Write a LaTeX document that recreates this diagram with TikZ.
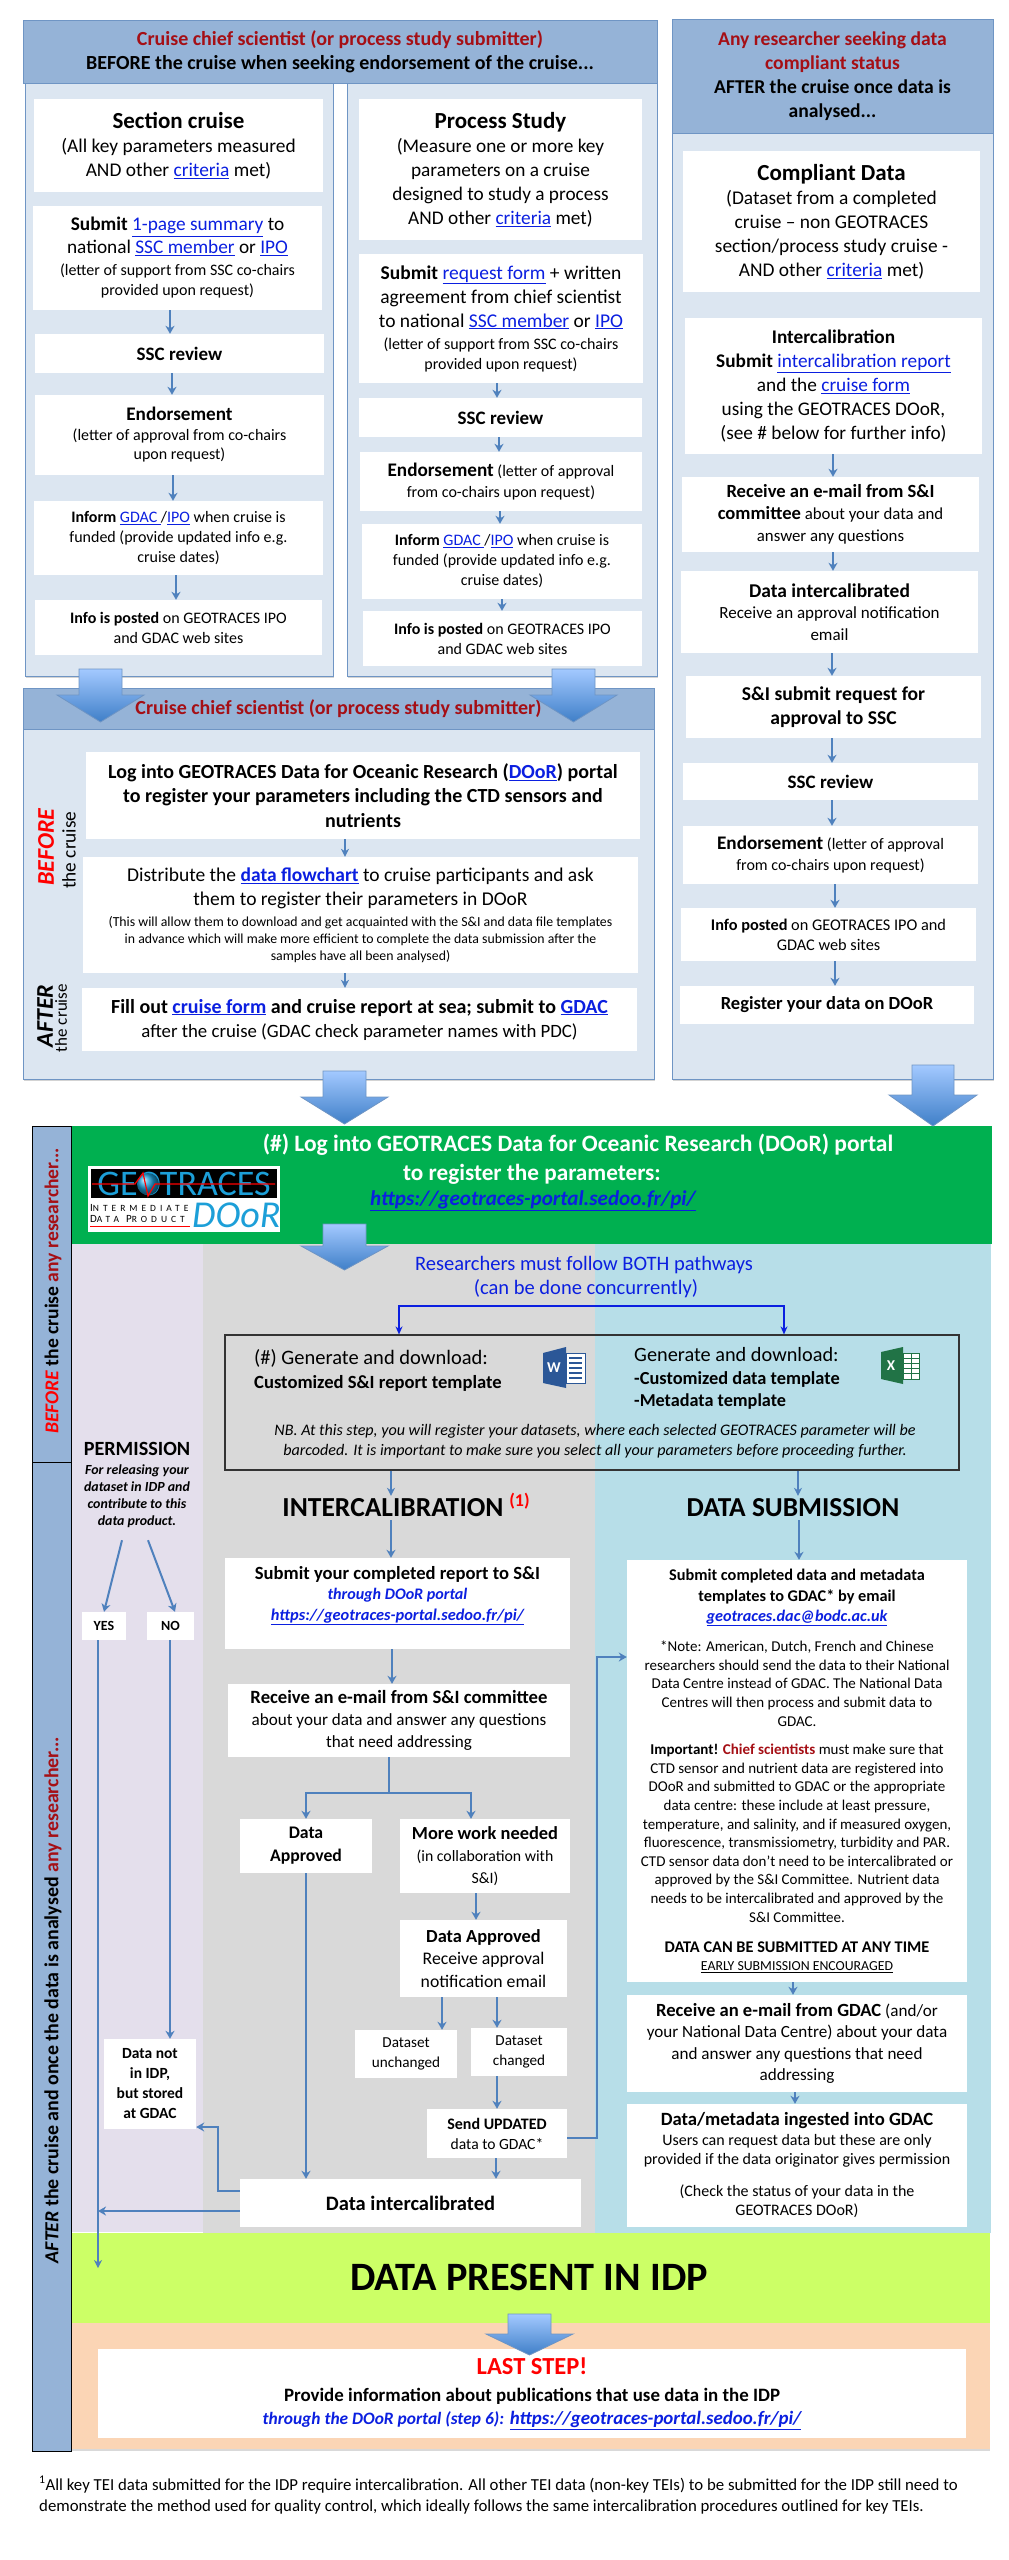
\documentclass[tikz,border=0pt]{standalone}
\usepackage{fontspec}
\setmainfont{Carlito}
\usetikzlibrary{arrows.meta,shadows}
\definecolor{headblue}{HTML}{95B3D7}
\definecolor{bodyblue}{HTML}{DCE6F1}
\definecolor{edgeblue}{HTML}{6F95C4}
\definecolor{flowblue}{HTML}{4F81BD}
\definecolor{arrowtop}{HTML}{A3C9FF}
\definecolor{arrowbot}{HTML}{3F7FC8}
\definecolor{darkred}{HTML}{A50F15}
\definecolor{linkblue}{HTML}{0B1FE0}
\definecolor{bandgreen}{HTML}{00B050}
\definecolor{lavender}{HTML}{E4DFEC}
\definecolor{midgrey}{HTML}{D9D9D9}
\definecolor{paleblue}{HTML}{B7DEE8}
\definecolor{limegreen}{HTML}{CCFF66}
\definecolor{peach}{HTML}{FBD5B5}
\definecolor{logocyan}{HTML}{1C9FD8}
\definecolor{wordblue}{HTML}{2B5797}
\definecolor{excelgreen}{HTML}{217346}
\newcommand{\fs}[2]{\fontsize{#1}{#2}\selectfont}
\newcommand{\lnk}[1]{\textcolor{linkblue}{\underline{#1}}}
\tikzset{
	panelbody/.style={fill=bodyblue,draw=edgeblue,line width=1pt,drop shadow={shadow xshift=1pt,shadow yshift=-1.5pt,opacity=.35}},
	panelhead/.style={fill=headblue,draw=edgeblue,line width=.8pt,inner sep=0pt,align=center},
	whitebox/.style={fill=white,inner sep=0pt,align=center},
	flow/.style={draw=flowblue,line width=2pt,-{Stealth[length=8pt,width=9pt,inset=2.5pt]}},
	flowthin/.style={draw=flowblue,line width=1.3pt,-{Stealth[length=8pt,width=8pt,inset=2.5pt]}},
	flowplain/.style={draw=flowblue,line width=2pt},
	bigarrow/.style={top color=arrowtop,bottom color=arrowbot,draw=edgeblue,line width=.8pt},
	bothflow/.style={draw=linkblue,line width=2pt,{Stealth[length=8pt,width=7pt]}-{Stealth[length=8pt,width=7pt]}},
}
\begin{document}
\begin{tikzpicture}[x=1pt,y=-1pt]
	\useasboundingbox (0,0) rectangle (1009,2560);
	%endorsement panel
	\draw[panelbody] (25,83) rectangle (333,676);
	\draw[panelbody] (347,83) rectangle (657,676);
	\node[panelhead,minimum width=634pt,minimum height=63pt,font=\fs{20}{24}\bfseries] (headA) at (340,51.5) {\textcolor{darkred}{Cruise chief scientist (or process study submitter)}\\BEFORE the cruise when seeking endorsement of the cruise...};
	\node[whitebox,minimum width=289pt,minimum height=93pt,font=\fs{19.4}{24}] (sect) at (178.5,145.5) {{\fs{23}{24}\bfseries Section cruise}\\(All key parameters measured\\AND other \lnk{criteria} met)};
	\node[whitebox,minimum width=289pt,minimum height=104pt,font=\fs{19.3}{24}] (sectsub) at (177.5,258) {\textbf{Submit} \lnk{1-page summary} to\\[-1pt]national \lnk{SSC member} or \lnk{IPO}\\[-2pt]{\fs{16}{20}(letter of support from SSC co-chairs}\\[-4pt]{\fs{16}{20}provided upon request)}};
	\node[whitebox,minimum width=289pt,minimum height=39pt,font=\fs{19}{22}\bfseries] (sectssc) at (179.5,353.5) {SSC review};
	\node[whitebox,minimum width=289pt,minimum height=80pt,font=\fs{16}{19.5}] (sectend) at (179.5,435) {{\fs{19.2}{22}\bfseries Endorsement}\\(letter of approval from co-chairs\\upon request)};
	\node[whitebox,minimum width=289pt,minimum height=74pt,font=\fs{16}{20}] (sectinf) at (178.5,538) {\textbf{Inform} \lnk{GDAC }/\lnk{IPO} when cruise is\\funded  (provide updated info e.g.\\cruise dates)};
	\node[whitebox,minimum width=287pt,minimum height=55pt,font=\fs{16}{20}] (sectpost) at (178.5,627.5) {\textbf{Info is posted} on GEOTRACES IPO\\and GDAC web sites};
	\node[whitebox,minimum width=283pt,minimum height=141pt,font=\fs{19.3}{24}] (proc) at (500.5,169.5) {{\fs{23}{24}\bfseries Process Study}\\(Measure one or more key\\parameters on a cruise\\designed to study a process\\AND other \lnk{criteria} met)};
	\node[whitebox,minimum width=284pt,minimum height=129pt,font=\fs{19.5}{24}] (procsub) at (501,318.5) {\textbf{Submit} \lnk{request form} + written\\agreement from chief scientist\\to national \lnk{SSC member} or \lnk{IPO}\\[-2pt]{\fs{16}{20}(letter of support from SSC co-chairs}\\[-4pt]{\fs{16}{20}provided upon request)}};
	\node[whitebox,minimum width=283pt,minimum height=39pt,font=\fs{19}{22}\bfseries] (procssc) at (500.5,417.5) {SSC review};
	\node[whitebox,minimum width=282pt,minimum height=59pt,font=\fs{16}{21}] (procend) at (501,481.5) {{\fs{19.2}{21}\bfseries Endorsement} (letter of approval\\from co-chairs upon request)};
	\node[whitebox,minimum width=280pt,minimum height=75pt,font=\fs{16}{20}] (procinf) at (502,561.5) {\textbf{Inform} \lnk{GDAC }/\lnk{IPO} when cruise is\\funded  (provide updated info e.g.\\cruise dates)};
	\node[whitebox,minimum width=279pt,minimum height=55pt,font=\fs{16}{20}] (procpost) at (502.5,638.5) {\textbf{Info is posted} on GEOTRACES IPO\\and GDAC web sites};
	\draw[flow] (sectsub.south -| 170,0) -- (sectssc.north -| 170,0);
	\draw[flow] (sectssc.south -| 172,0) -- (sectend.north -| 172,0);
	\draw[flow] (sectend.south -| 173,0) -- (sectinf.north -| 173,0);
	\draw[flow] (sectinf.south -| 176,0) -- (sectpost.north -| 176,0);
	\draw[flow] (procsub.south -| 497,0) -- (procssc.north -| 497,0);
	\draw[flow] (procssc.south -| 499,0) -- (procend.north -| 499,0);
	\draw[flow] (procend.south -| 500,0) -- (procinf.north -| 500,0);
	\draw[flow] (procinf.south -| 502,0) -- (procpost.north -| 502,0);
	%cruise panel
	\draw[panelbody] (23,688) rectangle (654,1079);
	\node[panelhead,minimum width=631pt,minimum height=41pt,font=\fs{20}{24}\bfseries,text=darkred] (headB) at (338.5,708.5) {Cruise chief scientist (or process study submitter)};
	\node[whitebox,minimum width=554pt,minimum height=87pt,font=\fs{20}{24.5}\bfseries] (login) at (363,795.5) {Log into GEOTRACES Data for Oceanic Research (\lnk{DOoR}) portal\\to register your parameters including the CTD sensors and\\nutrients};
	\node[whitebox,minimum width=555pt,minimum height=116pt,font=\fs{19.5}{24}] (distrib) at (360.5,915) {Distribute the \textbf{\lnk{data flowchart}} to cruise participants and ask\\them to register their parameters in DOoR\\[-3pt]{\fs{13.8}{17}(This will allow them to download and get acquainted with the S\&I and data file templates}\\[-7pt]{\fs{13.8}{17}in advance which will make more efficient to complete the data submission after the}\\[-7pt]{\fs{13.8}{17}samples have all been analysed)}};
	\node[whitebox,minimum width=555pt,minimum height=63pt,font=\fs{18.8}{24}] (fillout) at (359.5,1019.5) {{\fs{20}{24}\bfseries Fill out \lnk{cruise form} and cruise report at sea; submit to \lnk{GDAC}}\\after the cruise (GDAC check parameter names with PDC)};
	\draw[flowthin] (login.south -| 345,0) -- (distrib.north -| 345,0);
	\draw[flowthin] (distrib.south -| 345,0) -- (fillout.north -| 345,0);
	\node[rotate=90,inner sep=0pt,font=\fs{24}{24}\bfseries\itshape,text=red] (beforelab) at (46,847) {BEFORE};
	\node[rotate=90,inner sep=0pt,font=\fs{19.3}{20}] (beforecr) at (69,850) {the cruise};
	\node[rotate=90,inner sep=0pt,font=\fs{24}{24}\bfseries\itshape] (afterlab) at (45,1016) {AFTER};
	\node[rotate=90,inner sep=0pt,font=\fs{17}{18}] (aftercr) at (61,1018) {the cruise};
	%compliant panel
	\draw[panelbody] (672,133) rectangle (993,1079);
	\node[panelhead,minimum width=321pt,minimum height=114pt,font=\fs{19.6}{24}\bfseries] (headC) at (832.5,76) {\textcolor{darkred}{Any researcher seeking data}\\\textcolor{darkred}{compliant status}\\AFTER the cruise once data is\\analysed...};
	\node[whitebox,minimum width=297pt,minimum height=141pt,font=\fs{19.4}{24}] (comp) at (831.5,221.5) {{\fs{23}{24}\bfseries Compliant Data}\\(Dataset from a completed\\cruise -- non GEOTRACES\\section/process study cruise -\\AND other \lnk{criteria} met)};
	\node[whitebox,minimum width=297pt,minimum height=136pt,font=\fs{19.3}{24}] (cint) at (833.5,386) {\textbf{Intercalibration}\\\textbf{Submit} \lnk{intercalibration report}\\and the \lnk{cruise form}\\using the GEOTRACES DOoR,\\(see \# below for further info)};
	\node[whitebox,minimum width=297pt,minimum height=75pt,font=\fs{16.8}{22}] (crec) at (830.5,514.5) {{\fs{18.6}{22}\bfseries Receive an e-mail from S\&I}\\{\fs{18.6}{22}\bfseries committee} about your data and\\answer any questions};
	\node[whitebox,minimum width=297pt,minimum height=82pt,font=\fs{17}{21.5}] (cdat) at (829.5,612) {{\fs{19.5}{22}\bfseries Data intercalibrated}\\Receive an approval notification\\email};
	\node[whitebox,minimum width=295pt,minimum height=62pt,font=\fs{19.6}{24}\bfseries] (csi) at (833.5,707) {S\&I submit request for\\approval to  SSC};
	\node[whitebox,minimum width=295pt,minimum height=37pt,font=\fs{19}{22}\bfseries] (cssc) at (830.5,781.5) {SSC review};
	\node[whitebox,minimum width=295pt,minimum height=58pt,font=\fs{16}{21}] (cend) at (830.5,855) {{\fs{19.2}{21}\bfseries Endorsement} (letter of approval\\from co-chairs upon request)};
	\node[whitebox,minimum width=295pt,minimum height=53pt,font=\fs{16.3}{20}] (cpost) at (828.5,934.5) {\textbf{Info posted} on GEOTRACES IPO and\\GDAC  web sites};
	\node[whitebox,minimum width=294pt,minimum height=38pt,font=\fs{18.5}{20}\bfseries] (creg) at (827,1005) {Register your data on DOoR};
	\draw[flow] (cint.south -| 833,0) -- (crec.north -| 833,0);
	\draw[flow] (crec.south -| 833,0) -- (cdat.north -| 833,0);
	\draw[flow] (cdat.south -| 832,0) -- (csi.north -| 832,0);
	\draw[flow] (csi.south -| 832,0) -- (cssc.north -| 832,0);
	\draw[flow] (cssc.south -| 832,0) -- (cend.north -| 832,0);
	\draw[flow] (cend.south -| 835,0) -- (cpost.north -| 835,0);
	\draw[flow] (cpost.south -| 835,0) -- (creg.north -| 835,0);
	%lower bands
	\fill[lavender] (72,1244) rectangle (203,2232);
	\fill[midgrey] (203,1244) rectangle (595,2233);
	\fill[paleblue] (595,1244) rectangle (991,2233);
	\fill[bandgreen] (72,1126) rectangle (992,1244);
	\fill[limegreen] (72,2233) rectangle (990,2323);
	\fill[peach,drop shadow={shadow xshift=0pt,shadow yshift=-1.5pt,opacity=.3}] (72,2323) rectangle (990,2449);
	%side bar
	\draw[fill=headblue,line width=1pt] (32,1126) rectangle (71,1462);
	\draw[fill=headblue,line width=1pt] (32,1462) rectangle (71,2451);
	\node[rotate=90,inner sep=0pt,font=\fs{19.6}{20}\bfseries] (barup) at (53,1291) {\textcolor{red}{\itshape BEFORE} the cruise \textcolor{darkred}{any researcher...}};
	\node[rotate=90,inner sep=0pt,font=\fs{19.9}{20}\bfseries] (barlow) at (53,2000) {\textit{AFTER} the cruise and once the data is analysed \textcolor{darkred}{any researcher...}};
	%green band
	\node[font=\fs{23.5}{24}\bfseries,text=white,inner sep=0pt] (greenA) at (578,1145) {(\#) Log into GEOTRACES Data for Oceanic Research (DOoR) portal};
	\node[font=\fs{23.2}{24}\bfseries,text=white,inner sep=0pt] (greenB) at (532,1174) {to register the parameters:};
	\node[font=\fs{21.1}{24}\bfseries\itshape,inner sep=0pt] (greenC) at (533,1201) {\lnk{https://geotraces-portal.sedoo.fr/pi/}};
	%logo
	\fill[white] (88,1166) rectangle (280,1232);
	\fill[black] (91,1169) rectangle (277,1198);
	\node[font=\fs{36}{36},text=logocyan,inner sep=0pt] (logoname) at (184,1184) {GEOTRACES};
	\shade[ball color=logocyan] (148,1184) circle (11pt);
	\draw[red,line width=1.2pt] (92,1184) -- (135,1184) -- (143,1173) -- (148,1196) -- (155,1184) -- (275,1184);
	\node[font=\fs{11}{12},inner sep=0pt,anchor=west] (logointer) at (90,1208) {\addfontfeatures{LetterSpace=42}I{\fs{9.5}{12}\addfontfeatures{LetterSpace=42}NTERMEDIATE}};
	\node[font=\fs{11}{12},inner sep=0pt,anchor=west] (logodata) at (90,1219) {\addfontfeatures{LetterSpace=42}D{\fs{9.5}{12}\addfontfeatures{LetterSpace=42}ATA} P{\fs{9.5}{12}\addfontfeatures{LetterSpace=42}RODUCT}};
	\draw[red,line width=1pt] (90,1226) -- (190,1226);
	\node[font=\fs{38}{38}\itshape,text=logocyan,inner sep=0pt,anchor=west] (logodoor) at (192,1215) {DOoR};
	%pathways
	\node[font=\fs{20.5}{24},text=linkblue,inner sep=0pt] (bothA) at (584,1265) {Researchers must follow BOTH pathways};
	\node[font=\fs{20.5}{24},text=linkblue,inner sep=0pt] (bothB) at (586,1289) {(can be done concurrently)};
	\node[draw=black!80,line width=1.2pt,minimum width=734pt,minimum height=135pt] (genbox) at (592,1402.5) {};
	\coordinate (bothL) at (399,1306);
	\coordinate (bothR) at (784,1306);
	\draw[bothflow] (bothL |- genbox.north) -- (bothL) -- (bothR) -- (bothR |- genbox.north);
	\node[font=\fs{20.5}{24},anchor=west,inner sep=0pt] (genA) at (254,1358) {(\#) Generate and download:};
	\node[font=\fs{18.6}{20}\bfseries,anchor=west,inner sep=0pt] (genB) at (254,1383) {Customized S\&I report template};
	\node[font=\fs{20.3}{24},anchor=west,inner sep=0pt] (genC) at (634,1355) {Generate and download:};
	\node[font=\fs{18.4}{20}\bfseries,anchor=west,inner sep=0pt] (genD) at (634,1379) {-Customized data template};
	\node[font=\fs{18.2}{20}\bfseries,anchor=west,inner sep=0pt] (genE) at (634,1402) {-Metadata template};
	\node[font=\fs{16.1}{20}\itshape,inner sep=0pt] (nbA) at (595,1431) {NB. At this step, you will register your datasets, where each selected GEOTRACES parameter will be};
	\node[font=\fs{16.1}{20}\itshape,inner sep=0pt] (nbB) at (595,1451) {barcoded. It is important to make sure you select all your parameters before proceeding further.};
	%word icon
	\draw[wordblue,fill=white,line width=.8pt] (566,1353) rectangle (585,1383);
	\fill[wordblue] (543,1353) -- (566,1347) -- (566,1388) -- (543,1383) -- cycle;
	\draw[wordblue,line width=1.4pt] (569,1358) -- (582,1358) (569,1363) -- (582,1363) (569,1368) -- (582,1368) (569,1373) -- (582,1373) (569,1378) -- (582,1378);
	\node[font=\fs{15}{16}\bfseries,text=white,inner sep=0pt] (wordW) at (554,1368) {W};
	%excel icon
	\draw[excelgreen,fill=white,line width=.8pt] (903,1353) rectangle (919,1379);
	\draw[excelgreen,line width=1pt] (903,1358) -- (919,1358) (903,1363) -- (919,1363) (903,1368) -- (919,1368) (903,1373) -- (919,1373) (911,1353) -- (911,1379);
	\fill[excelgreen] (881,1352) -- (903,1347) -- (903,1384) -- (881,1379) -- cycle;
	\node[font=\fs{15}{16}\bfseries,text=white,inner sep=0pt] (excelX) at (891,1366) {X};
	%permission column
	\node[font=\fs{20.2}{22}\bfseries,inner sep=0pt] (permhead) at (137,1449) {PERMISSION};
	\node[font=\fs{13.9}{17}\bfseries\itshape,inner sep=0pt,align=center,minimum height=88pt] (permtext) at (137,1496) {For releasing your\\dataset in IDP and\\contribute to this\\data product.};
	\node[whitebox,minimum width=44pt,minimum height=28pt,font=\fs{14}{18}\bfseries] (yes) at (104,1626) {YES};
	\node[whitebox,minimum width=47pt,minimum height=28pt,font=\fs{14}{18}\bfseries] (no) at (170.5,1626) {NO};
	\node[whitebox,minimum width=92pt,minimum height=90pt,font=\fs{15.5}{20}\bfseries] (notidp) at (150,2084) {Data not\\in IDP,\\but stored\\at GDAC};
	\draw[flow] (permtext.south -| 122,0) -- (yes.north -| 104,0);
	\draw[flow] (permtext.south -| 148,0) -- (no.north -| 175,0);
	\draw[flow] (no.south -| 170,0) -- (notidp.north -| 170,0);
	\coordinate (idpjoin) at (98,2233);
	\coordinate (idpend) at (98,2268);
	\draw[flowplain] (yes.south -| idpjoin) -- (idpjoin);
	\draw[flowthin] (idpjoin) -- (idpend);
	%intercalibration column
	\node[font=\fs{27.5}{28}\bfseries,inner sep=0pt,minimum height=24pt] (inttitle) at (393,1508) {INTERCALIBRATION};
	\node[font=\fs{18}{18}\bfseries,text=red,inner sep=0pt] (intnote) at (519.5,1501) {(1)};
	\draw[flowthin] (genbox.south -| 391,0) -- (inttitle.north -| 391,0);
	\node[whitebox,minimum width=345pt,minimum height=91pt,font=\fs{18.6}{20.5}\bfseries] (submit) at (397.5,1603.5) {Submit your completed report to S\&I\\\textcolor{linkblue}{\fs{16.1}{20}\itshape through DOoR portal}\\{\fs{16.4}{20}\itshape\lnk{https://geotraces-portal.sedoo.fr/pi/}}\\~};
	\node[whitebox,minimum width=342pt,minimum height=73pt,font=\fs{17.1}{22}] (recv) at (399,1720.5) {{\fs{18.7}{22}\bfseries Receive an e-mail from S\&I committee}\\about your data and answer any questions\\that need addressing};
	\node[whitebox,minimum width=132pt,minimum height=54pt,font=\fs{17.7}{23}\bfseries] (appr) at (306,1846) {Data\\Approved};
	\node[whitebox,minimum width=170pt,minimum height=74pt,font=\fs{15.8}{22}] (more) at (485,1856) {{\fs{18.4}{22}\bfseries More work needed}\\(in collaboration with\\S\&I)};
	\node[whitebox,minimum width=167pt,minimum height=77pt,font=\fs{17.7}{22.5}] (appr2) at (483.5,1958.5) {{\fs{18.4}{22}\bfseries Data Approved}\\Receive approval\\notification email};
	\node[whitebox,minimum width=102pt,minimum height=48pt,font=\fs{15.2}{20}] (unch) at (406,2054) {Dataset\\unchanged};
	\node[whitebox,minimum width=96pt,minimum height=48pt,font=\fs{15.2}{20}] (chan) at (519,2052) {Dataset\\changed};
	\node[whitebox,minimum width=140pt,minimum height=49pt,font=\fs{15.6}{20}] (sendup) at (497,2133.5) {{\fs{16}{20}\bfseries Send UPDATED}\\data to GDAC*};
	\node[whitebox,minimum width=341pt,minimum height=48pt,font=\fs{20.5}{22}\bfseries] (intdone) at (410.5,2203) {Data intercalibrated};
	\coordinate (split) at (389,1793);
	\draw[flow] (inttitle.south -| 391,0) -- (submit.north -| 391,0);
	\draw[flow] (submit.south -| 392,0) -- (recv.north -| 392,0);
	\draw[flowplain] (recv.south -| split) -- (split);
	\draw[flow] (split) -| (appr.north);
	\draw[flow] (split) -| (more.north -| 471,0);
	\draw[flow] (appr.south) -- (intdone.north -| appr.south);
	\draw[flow] (more.south -| 476,0) -- (appr2.north -| 476,0);
	\draw[flow] (appr2.south -| 442,0) -- (unch.north -| 442,0);
	\draw[flow] (appr2.south -| 497,0) -- (chan.north -| 497,0);
	\draw[flow] (chan.south -| 497,0) -- (sendup.north -| 497,0);
	\draw[flow] (sendup.south -| 496,0) -- (intdone.north -| 496,0);
	\draw[flow] (intdone.west |- 0,2191) -| (218,2127) -- (notidp.east |- 0,2127);
	\draw[flow] (intdone.west |- 0,2211) -- (idpjoin |- 0,2211);
	%data submission column
	\node[font=\fs{27.4}{28}\bfseries,inner sep=0pt,minimum height=24pt] (datatitle) at (793,1508) {DATA SUBMISSION};
	\draw[flowthin] (genbox.south -| 798,0) -- (datatitle.north -| 798,0);
	\node[whitebox,minimum width=340pt,minimum height=422pt,font=\fs{15}{18.6}] (datasub) at (797,1771) {{\fs{16.3}{19}\bfseries Submit completed data and metadata}\\[1.5pt]{\fs{16.3}{19}\bfseries templates to GDAC* by email}\\[1.5pt]{\fs{16.2}{19}\bfseries\itshape\lnk{geotraces.dac@bodc.ac.uk}}\\[12pt]*Note: American, Dutch, French and Chinese\\researchers should send the data to their National\\Data Centre instead of GDAC. The National Data\\Centres will then process and submit data to\\GDAC.\\[10pt]\textbf{Important! \textcolor{darkred}{Chief scientists}} must make sure that\\CTD sensor and nutrient data are registered into\\DOoR and submitted to GDAC or the appropriate\\data centre: these include at least pressure,\\temperature, and salinity, and if measured oxygen,\\fluorescence, transmissiometry, turbidity and PAR.\\CTD sensor data don't need to be intercalibrated or\\approved by the S\&I Committee. Nutrient data\\needs to be intercalibrated and approved by the\\S\&I Committee.\\[12pt]{\fs{16.3}{18}\bfseries DATA CAN BE SUBMITTED AT ANY TIME}\\[-1pt]{\fs{13.8}{18}\underline{EARLY SUBMISSION ENCOURAGED}}};
	\node[whitebox,minimum width=340pt,minimum height=97pt,font=\fs{17.1}{21.5}] (grecv) at (797,2043.5) {{\fs{18.6}{21}\bfseries Receive an e-mail from GDAC} (and/or\\your National Data Centre) about your data\\and answer any questions that need\\addressing};
	\node[whitebox,minimum width=340pt,minimum height=123pt,font=\fs{16}{19.5}] (gest) at (797,2165.5) {{\fs{18.7}{21}\bfseries Data/metadata ingested into GDAC}\\Users can request data but these are only\\provided if the data originator gives permission\\[12pt](Check the status of your data in the\\GEOTRACES DOoR)};
	\draw[flow] (datatitle.south -| 799,0) -- (datasub.north -| 799,0);
	\draw[flow] (datasub.south -| 793,0) -- (grecv.north -| 793,0);
	\draw[flow] (grecv.south -| 795,0) -- (gest.north -| 795,0);
	\draw[flow] (sendup.east |- 0,2138) -| (597,1657) -- (datasub.west |- 0,1657);
	%last bands
	\node[font=\fs{40.3}{44}\bfseries,inner sep=0pt] (present) at (529,2277) {DATA PRESENT IN IDP};
	\node[whitebox,minimum width=868pt,minimum height=89pt,font=\fs{18.9}{23}] (laststep) at (532,2393.5) {{\fs{24.5}{28}\bfseries\textcolor{red}{LAST STEP!}}\\[4pt]\textbf{Provide information about publications that use data in the IDP}\\{\bfseries\itshape{\fs{17.4}{23}\textcolor{linkblue}{through the DOoR portal (step 6):}} \lnk{https://geotraces-portal.sedoo.fr/pi/}}};
	\node[font=\fs{16.8}{21},anchor=north west,inner sep=0pt,align=left] (footnote) at (39,2476) {\textsuperscript{1}All key TEI data submitted for the IDP require intercalibration. All other TEI data (non-key TEIs) to be submitted for the IDP still need to\\demonstrate the method used for quality control, which ideally follows the same intercalibration procedures outlined for key TEIs.};
	%big arrows
	\draw[bigarrow] (79,669) -- (122,669) -- (122,695) -- (144,695) -- (100.5,722) -- (57,695) -- (79,695) -- cycle;
	\draw[bigarrow] (552,669) -- (595,669) -- (595,695) -- (617,695) -- (573.5,722) -- (530,695) -- (552,695) -- cycle;
	\draw[bigarrow] (323,1071) -- (366,1071) -- (366,1097) -- (388,1097) -- (344.5,1124) -- (301,1097) -- (323,1097) -- cycle;
	\draw[bigarrow] (912,1065) -- (954,1065) -- (954,1095) -- (977,1095) -- (933,1126) -- (889,1095) -- (912,1095) -- cycle;
	\draw[bigarrow] (323,1224) -- (366,1224) -- (366,1246) -- (388,1246) -- (344.5,1270) -- (301,1246) -- (323,1246) -- cycle;
	\draw[bigarrow] (508,2314) -- (551,2314) -- (551,2334) -- (573,2334) -- (529.5,2355) -- (486,2334) -- (508,2334) -- cycle;
\end{tikzpicture}
\end{document}
